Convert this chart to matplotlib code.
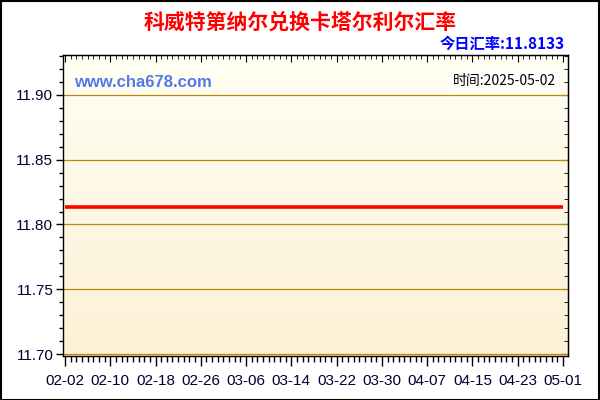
import matplotlib
matplotlib.use("Agg")
import matplotlib.pyplot as plt
import matplotlib.dates as mdates
from matplotlib.ticker import MultipleLocator
from matplotlib.colors import LinearSegmentedColormap
import numpy as np
import pandas as pd

plt.rcParams['font.family'] = ['Liberation Sans', 'Noto Sans CJK SC', 'DejaVu Sans']

title = "科威特第纳尔兑换卡塔尔利尔汇率"
rate_label = "今日汇率:11.8133"
site = "www.cha678.com"
time_label = "时间:2025-05-02"

dates = pd.date_range("2025-02-02", "2025-05-01", freq="D")
rates = [11.8133] * len(dates)
yticks = [11.70, 11.75, 11.80, 11.85, 11.90]
tick_dates = pd.date_range("2025-02-02", "2025-05-01", freq="8D")

fig = plt.figure(figsize=(6, 4), dpi=100)
fig.patch.set_facecolor("white")
ax = fig.add_axes([63/600, 1-356/400, 505/600, 301/400])

# gradient background
cmap = LinearSegmentedColormap.from_list("bg", ["#FDF0D6", "#FFFFF3"])
ax.imshow(np.linspace(0, 1, 256).reshape(-1, 1), cmap=cmap, aspect="auto",
          extent=[0, 1, 0, 1], transform=ax.transAxes, origin="lower", zorder=0)

for y in yticks:
    ax.axhline(y, color="#B8860B", lw=0.9, zorder=1)

ax.plot(dates, rates, color="#FF0000", lw=2.6, zorder=3, solid_capstyle="butt")

x0 = mdates.date2num(pd.Timestamp("2025-02-02"))
ax.set_xlim(x0 - 0.35, x0 + 88.9)
ax.set_ylim(11.6985, 11.9308)
ax.set_xticks(tick_dates)
ax.set_xticklabels([d.strftime("%m-%d") for d in tick_dates])
ax.xaxis.set_minor_locator(mdates.DayLocator())
ax.set_yticks(yticks)
ax.set_yticklabels([f"{v:.2f}" for v in yticks])
ax.yaxis.set_minor_locator(MultipleLocator(0.01))

ax.tick_params(axis="both", which="major", labelsize=11, colors="black",
               labelcolor="#000033", width=1)
ax.tick_params(axis="x", which="major", length=7, direction="out", pad=6)
ax.tick_params(axis="x", which="minor", length=4, direction="out", width=1)
ax.tick_params(axis="y", which="major", length=5, direction="out", pad=2)
ax.tick_params(axis="y", which="minor", length=3, direction="out", width=1)

# top and right inward ticks
sec_x = ax.secondary_xaxis("top")
sec_x.set_xticks(tick_dates)
sec_x.xaxis.set_minor_locator(mdates.DayLocator())
sec_x.tick_params(which="major", direction="in", length=5, labeltop=False)
sec_x.tick_params(which="minor", direction="in", length=3, labeltop=False)
sec_y = ax.secondary_yaxis("right")
sec_y.set_yticks(yticks)
sec_y.yaxis.set_minor_locator(MultipleLocator(0.01))
sec_y.tick_params(which="major", direction="in", length=5, labelright=False)
sec_y.tick_params(which="minor", direction="in", length=3, labelright=False)
for s in ax.spines.values():
    s.set_color("black")
    s.set_linewidth(1)

fig.text(0.5, 1-22/400, title, ha="center", va="center", color="#FF0000",
         fontsize=15, fontweight="bold", family=['Noto Sans CJK SC', 'DejaVu Sans'])
fig.text(565/600, 1-44/400, rate_label, ha="right", va="center", color="#0000FF",
         fontsize=11, fontweight="bold", family=['Noto Sans CJK SC', 'DejaVu Sans'])
ax.text(0.022, 0.908, site, transform=ax.transAxes, ha="left", va="center",
        color="#5577EE", fontsize=12, fontweight="bold", family=['Liberation Sans', 'DejaVu Sans'], zorder=4)
ax.text(0.976, 0.912, time_label, transform=ax.transAxes, ha="right", va="center",
        color="black", fontsize=10, family=['Noto Sans CJK SC', 'DejaVu Sans'], zorder=4,
        bbox=dict(facecolor="white", edgecolor="none", pad=1.5))

# figure border
fig.add_artist(plt.Rectangle((0.001, 0.001), 0.997, 0.997, transform=fig.transFigure,
                             fill=False, edgecolor="black", lw=1.5))

fig.savefig("out.png", dpi=100)
